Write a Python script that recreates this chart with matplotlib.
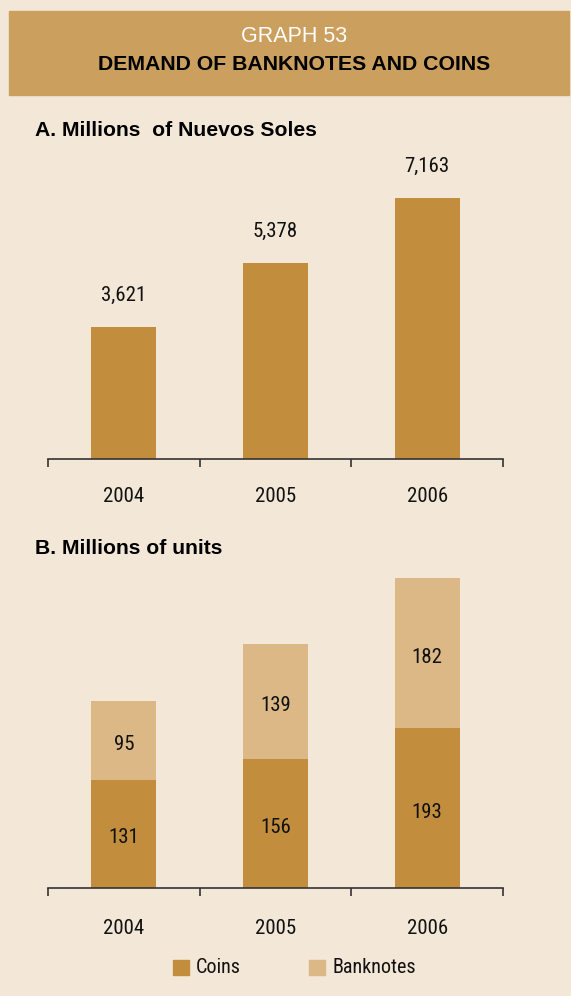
import matplotlib.pyplot as plt
from matplotlib.patches import Rectangle

years = ['2004', '2005', '2006']
soles = [3621, 5378, 7163]          # millions of nuevos soles
coins = [131, 156, 193]             # millions of units
banknotes = [95, 139, 182]

bg = '#F3E7D8'
band = '#CB9F5E'
c_coin = '#C28E3E'
c_note = '#DBB886'
narrow = ['Roboto Condensed', 'Liberation Sans', 'DejaVu Sans']
bold = ['Liberation Sans', 'DejaVu Sans']

W, H = 571, 996
fig = plt.figure(figsize=(W/100, H/100), dpi=100, facecolor=bg)

def fx(px): return px / W
def fy(py): return 1 - py / H

# header band
fig.patches.append(Rectangle((fx(9), fy(95)), fx(560), (95 - 11) / H,
                             transform=fig.transFigure, color=band, zorder=0))
fig.text(fx(294), fy(36), 'GRAPH 53', color='white', fontsize=15.5,
         family=bold, ha='center', va='center')
fig.text(fx(294), fy(64), 'DEMAND OF BANKNOTES AND COINS', color='black',
         fontsize=15.3, fontweight='bold', family=bold, ha='center', va='center')

fig.text(fx(35), fy(130), 'A. Millions  of Nuevos Soles', fontsize=15.2,
         fontweight='bold', family=bold, va='center')
fig.text(fx(35), fy(548), 'B. Millions of units', fontsize=15.2,
         fontweight='bold', family=bold, va='center')

x = range(len(years))

def style(ax, pad):
    ax.set_facecolor('none')
    for s in ['top', 'left', 'right']:
        ax.spines[s].set_visible(False)
    ax.spines['bottom'].set_color('#333333')
    ax.spines['bottom'].set_linewidth(1.2)
    ax.set_yticks([])
    ax.set_xlim(-0.5, 2.5)
    ax.set_xticks([-0.5, 0.5, 1.5, 2.5])
    ax.set_xticklabels([])
    ax.tick_params(axis='x', which='major', direction='out', length=6,
                   width=1.2, color='#333333')
    ax.set_xticks(list(x), minor=True)
    ax.set_xticklabels(years, minor=True, fontsize=15, family=narrow,
                       color='#111111')
    ax.tick_params(axis='x', which='minor', length=0, pad=pad)

# panel A
axA = fig.add_axes([fx(48), fy(459), fx(455), (459 - 150) / H])
style(axA, 20)
axA.set_ylim(0, 7163 * 309 / 261)
axA.bar(x, soles, width=0.43, color=c_coin)
for i, v in enumerate(soles):
    axA.annotate(f'{v:,}', (i, v), xytext=(0, 23), textcoords='offset points',
                 ha='center', va='center', fontsize=15, family=narrow,
                 color='#111111')

# panel B
axB = fig.add_axes([fx(48), fy(888), fx(455), (888 - 560) / H])
style(axB, 22)
axB.set_ylim(0, 226 * 328 / 187)
axB.bar(x, coins, width=0.43, color=c_coin, label='Coins')
axB.bar(x, banknotes, width=0.43, bottom=coins, color=c_note, label='Banknotes')
for i in x:
    axB.annotate(str(coins[i]), (i, coins[i] / 2), xytext=(0, -3),
                 textcoords='offset points', ha='center', va='center',
                 fontsize=15, family=narrow, color='#111111')
    axB.annotate(str(banknotes[i]), (i, coins[i] + banknotes[i] / 2),
                 xytext=(0, -3), textcoords='offset points', ha='center',
                 va='center', fontsize=15, family=narrow, color='#111111')

# legend
for lx, col, lab in [(173, c_coin, 'Coins'), (309, c_note, 'Banknotes')]:
    fig.patches.append(Rectangle((fx(lx), fy(975)), fx(16), 15 / H,
                                 transform=fig.transFigure, color=col))
    fig.text(fx(lx + 23), fy(967), lab, fontsize=14.5, family=narrow,
             va='center', color='#111111')

fig.savefig('out.png', dpi=100, facecolor=bg)
